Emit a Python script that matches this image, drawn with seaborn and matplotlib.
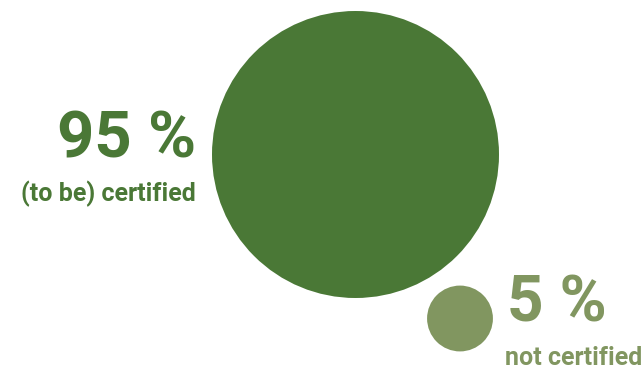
import matplotlib
matplotlib.use("Agg")
import matplotlib.pyplot as plt
import seaborn as sns
import pandas as pd

# Share of products by certification status
labels = ["(to be) certified", "not certified"]
shares = [95, 5]
value_texts = ["95 %", "5 %"]

colors = ["#4a7836", "#819660"]

W, H, DPI = 642, 372, 100
sns.set_theme(style="white")
plt.rcParams["font.family"] = ["Roboto", "DejaVu Sans"]

fig = plt.figure(figsize=(W / DPI, H / DPI), dpi=DPI)
ax = fig.add_axes([0, 0, 1, 1])

# bubble layout (pixel space) - areas are proportional to the shares
big_diam_px = 287
px_to_pt = 72 / DPI
s_max = (big_diam_px * px_to_pt) ** 2

df = pd.DataFrame({
    "label": labels,
    "share": shares,
    "x": [355.5, 460.0],
    "y": [154.5, 318.5],
})

sns.scatterplot(
    data=df, x="x", y="y", size="share", hue="label",
    palette=colors, sizes=(0, s_max), size_norm=(0, max(shares)),
    linewidth=0, legend=False, ax=ax, marker="o", alpha=1,
)
ax.set_xlim(0, W)
ax.set_ylim(H, 0)
ax.set_aspect("equal")
ax.axis("off")

# annotations
ax.text(196, 158, value_texts[0], ha="right", va="baseline",
        fontsize=47, fontweight="bold", color=colors[0])
ax.text(196, 201, labels[0], ha="right", va="baseline",
        fontsize=18, fontweight="bold", color=colors[0])
ax.text(507, 322, value_texts[1], ha="left", va="baseline",
        fontsize=46, fontweight="bold", color=colors[1])
ax.text(505, 365, labels[1], ha="left", va="baseline",
        fontsize=18, fontweight="bold", color=colors[1])

fig.savefig("out.png", dpi=DPI, facecolor="white")
